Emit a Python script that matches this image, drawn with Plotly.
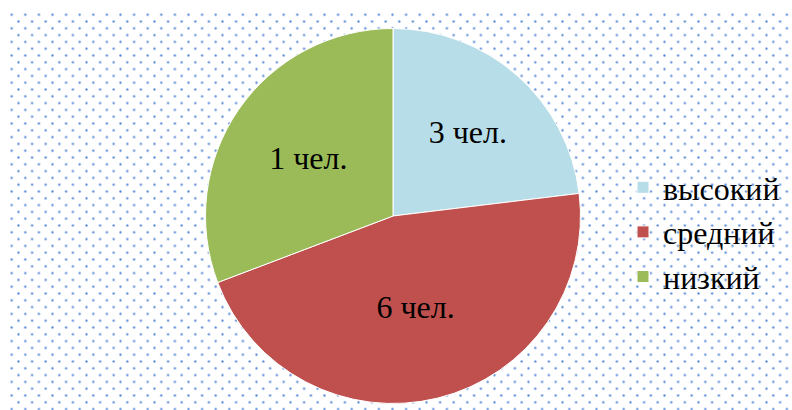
import base64
import plotly.graph_objects as go

# Data
categories = ["высокий", "средний", "низкий"]
values = [3, 6, 4]
slice_labels = ["3 чел.", "6 чел.", "1 чел."]
colors = ["#B7DDE8", "#C0504D", "#9BBB59"]

W, H = 792, 410

# dotted background (decoration)
svg = (
    f'<svg xmlns="http://www.w3.org/2000/svg" width="{W}" height="{H}">'
    '<defs><pattern id="p" x="8.3" y="11.3" width="13.6" height="13.6" patternUnits="userSpaceOnUse">'
    '<circle cx="3.4" cy="3.4" r="1.15" fill="#5B8BD6"/>'
    '<circle cx="10.2" cy="10.2" r="1.15" fill="#5B8BD6"/>'
    '</pattern></defs>'
    f'<rect x="8" y="11" width="{W-8}" height="{H-11}" fill="url(#p)"/></svg>'
)
src = "data:image/svg+xml;base64," + base64.b64encode(svg.encode("utf-8")).decode("ascii")

cx, cy, R = 393, 216, 187.5

fig = go.Figure(
    go.Pie(
        labels=categories,
        values=values,
        text=slice_labels,
        textinfo="text",
        textposition="inside",
        insidetextorientation="horizontal",
        sort=False,
        direction="clockwise",
        rotation=0,
        marker=dict(colors=colors, line=dict(color="white", width=1)),
        textfont=dict(family="Liberation Serif", size=32, color="black"),
        domain=dict(
            x=[(cx - R) / W, (cx + R) / W],
            y=[(H - cy - R) / H, (H - cy + R) / H],
        ),
        hoverinfo="label+value",
    )
)

fig.update_layout(
    width=W,
    height=H,
    margin=dict(l=0, r=0, t=0, b=0),
    paper_bgcolor="white",
    plot_bgcolor="white",
    showlegend=True,
    legend=dict(
        x=623 / W,
        y=1 - 160 / H,
        xanchor="left",
        yanchor="top",
        font=dict(family="Liberation Serif", size=32, color="black"),
        bgcolor="rgba(0,0,0,0)",
        tracegroupgap=0,
    ),
    images=[
        dict(
            source=src,
            xref="paper",
            yref="paper",
            x=0,
            y=1,
            sizex=1,
            sizey=1,
            xanchor="left",
            yanchor="top",
            sizing="stretch",
            layer="below",
        )
    ],
)

fig.write_html(
    "out.html",
    config={"displayModeBar": False},
    post_script="document.body.style.margin='0px';document.body.style.overflow='hidden';",
)
